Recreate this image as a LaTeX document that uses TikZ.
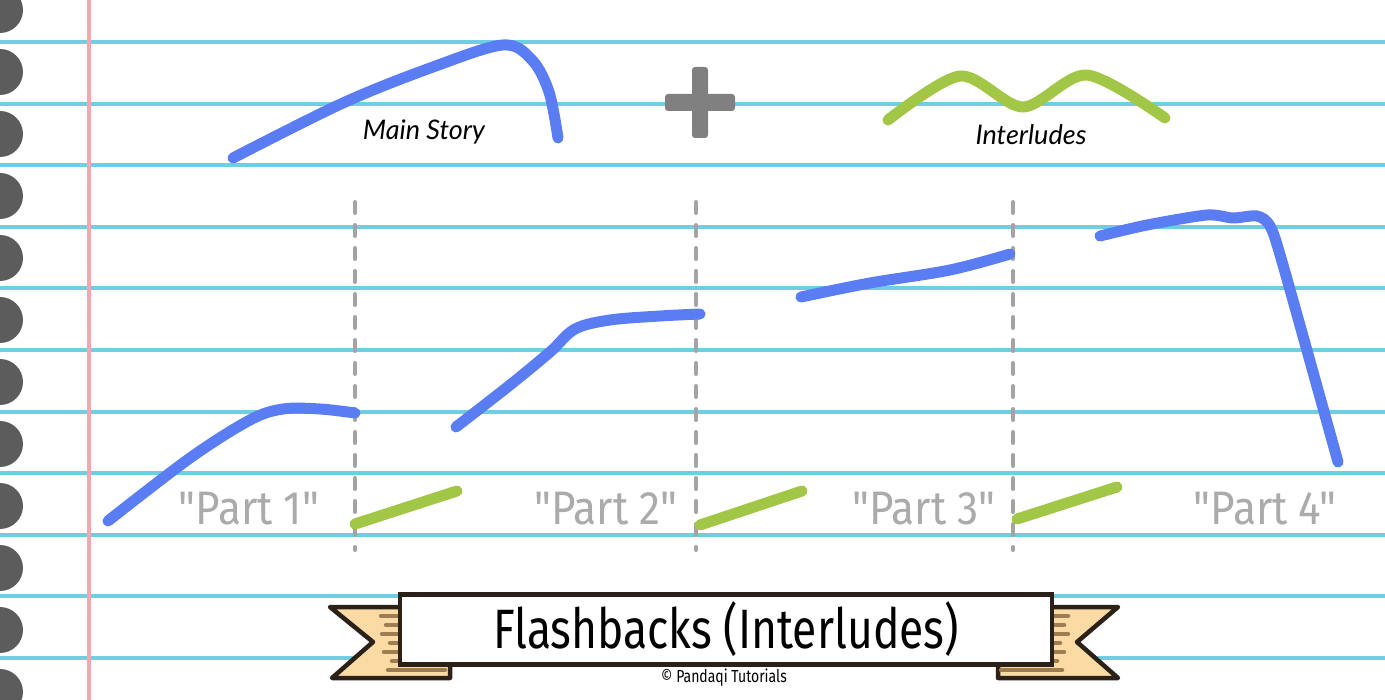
\documentclass[tikz,border=0pt]{standalone}
\usepackage{fontspec}
\setmainfont{Lato}
\newfontfamily\dosis{Fira Sans}[FakeStretch=0.8]
\newfontfamily\dosiswide{Fira Sans}[FakeStretch=0.9]
\definecolor{ruled}{HTML}{6FCFE2}
\definecolor{marginpink}{HTML}{F5A7AF}
\definecolor{holegray}{HTML}{5C5C5C}
\definecolor{storyblue}{HTML}{5B7DF4}
\definecolor{flashgreen}{HTML}{A2C747}
\definecolor{dashgray}{HTML}{A4A4A4}
\definecolor{labelgray}{HTML}{ABABAB}
\definecolor{plusgray}{HTML}{808080}
\definecolor{tailpeach}{HTML}{FBDBA3}
\definecolor{stripebrown}{HTML}{9E7D52}
\definecolor{inkbrown}{HTML}{2B2118}
\begin{document}
\begin{tikzpicture}[x=1pt,y=-1pt,
    ruling/.style={ruled,line width=4pt},
    plotline/.style={line width=11pt,line cap=round,line join=round},
    mainline/.style={plotline,storyblue},
    interlude/.style={plotline,flashgreen},
    cut/.style={dashgray,line width=4pt,line cap=round,dash pattern=on 11pt off 12pt},
    partlabel/.style={anchor=base,text=labelgray,font=\dosiswide\fontsize{47}{47}\selectfont},
    caption/.style={anchor=base,font=\itshape\fontsize{27}{27}\selectfont},
    tail/.style={fill=tailpeach,draw=inkbrown,line width=4.5pt,line join=round},
    stripe/.style={stripebrown,line width=4.5pt,line cap=round}
]
\useasboundingbox (0,0) rectangle (1385,700);
\clip (0,0) rectangle (1385,700);
\fill[white] (0,0) rectangle (1385,700);
% paper
\foreach \k in {0,...,10}
    \draw[ruling] (0,42+61.6*\k) -- (1385,42+61.6*\k);
\draw[marginpink,line width=3.5pt] (89,0) -- (89,700);
\foreach \k in {0,...,11}
    \fill[holegray] (0,10+62*\k) circle (23pt);
% top: main story + interludes
\draw[mainline] plot[smooth,tension=0.55] coordinates
    {(233,158) (343,103) (433,67) (503,45) (532,60) (549,92) (558,138)};
\node[caption] (story) at (424,140) {Main Story};
\fill[plusgray,rounded corners=3pt] (665,94) rectangle (735,111);
\fill[plusgray,rounded corners=3pt] (692,67) rectangle (708,138);
\draw[interlude] plot[smooth,tension=0.5] coordinates
    {(888,120) (960,76) (1023,107) (1087,75) (1165,118)};
\node[caption] (inter) at (1031,145) {Interludes};
% cuts
\foreach \x in {355,696,1013}
    \draw[cut] (\x,202) -- (\x,550);
% story parts
\draw[mainline] plot[smooth,tension=0.55] coordinates
    {(108,521) (190,458) (250,420) (283,409) (320,409) (355,413)};
\draw[mainline] plot[smooth,tension=0.55] coordinates
    {(456,427) (510,385) (550,352) (575,329) (610,320) (660,316) (700,314)};
\draw[mainline] plot[smooth,tension=0.55] coordinates
    {(801,297) (870,283) (950,270) (1010,254)};
\draw[mainline] plot[smooth,tension=0.45] coordinates
    {(1100,236) (1147,225) (1207,215) (1233,218) (1257,216) (1270,226) (1283,265) (1338,462)};
\draw[interlude] (355,524) -- (457,491);
\draw[interlude] (700,525) -- (802,491);
\draw[interlude] (1017,519) -- (1117,487);
\node[partlabel] (part1) at (249,524) {"Part 1"};
\node[partlabel] (part2) at (606,524) {"Part 2"};
\node[partlabel] (part3) at (924,524) {"Part 3"};
\node[partlabel] (part4) at (1265,524) {"Part 4"};
% banner
\draw[tail] (330,607) -- (450,607) -- (450,678) -- (332,678) -- (373,642) -- cycle;
\draw[tail] (1118,607) -- (998,607) -- (998,678) -- (1118,678) -- (1077,642) -- cycle;
\foreach \y/\a/\b in {616/381/1068,625/386/1064,634/382/1068,643/390/1060,652/384/1064,661/392/1057}
{
    \draw[stripe] (\a,\y) -- (410,\y);
    \draw[stripe] (1040,\y) -- (\b,\y);
}
\draw[stripe] (388,670) -- (445,670);
\draw[stripe] (1001,670) -- (1062,670);
\node[draw=inkbrown,fill=white,line width=4.5pt,minimum width=652pt,minimum height=70pt]
    (banner) at (726,629.5) {};
\node[anchor=base,font=\dosis\fontsize{55.5}{55.5}\selectfont] (title) at (726,648) {Flashbacks (Interludes)};
\node[anchor=base,font=\dosis\fontsize{17.5}{17.5}\selectfont] (credit) at (724,682) {© Pandaqi Tutorials};
\end{tikzpicture}
\end{document}
